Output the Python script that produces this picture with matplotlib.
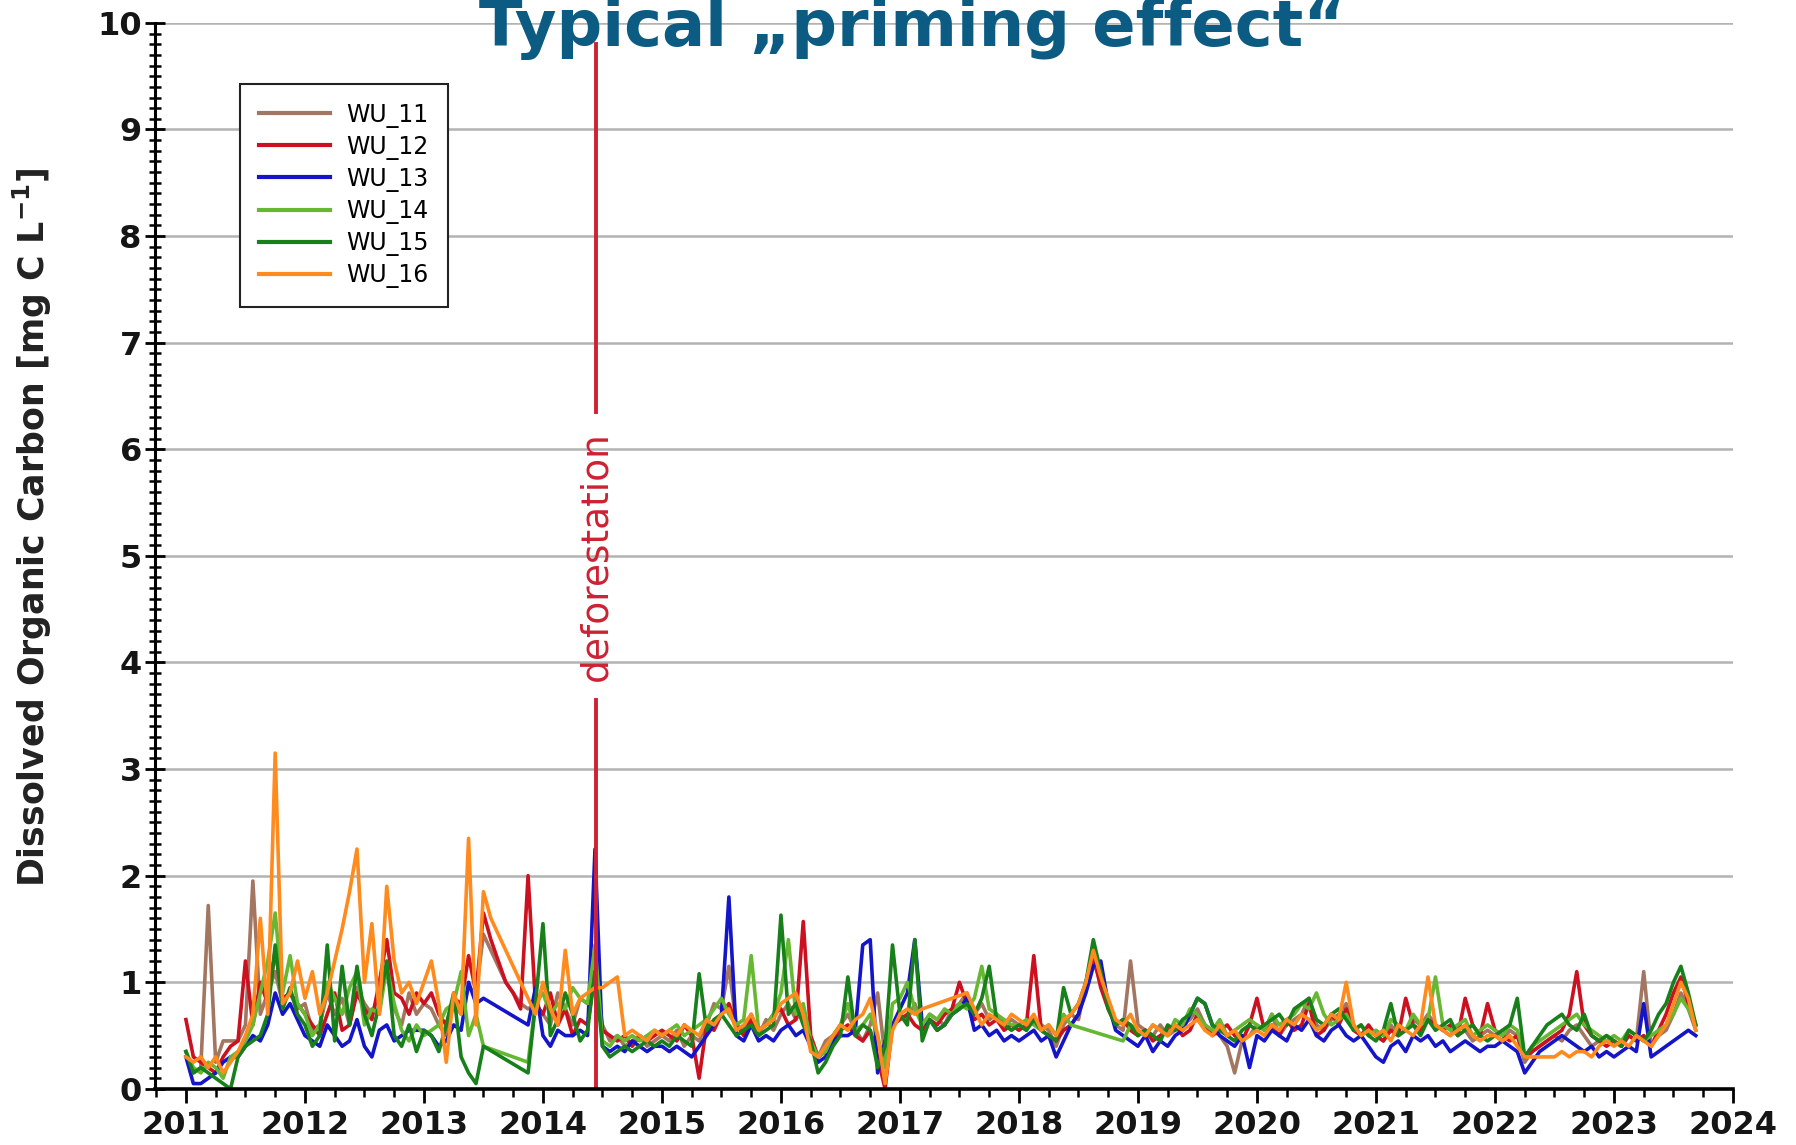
import numpy as np
import pandas as pd
import matplotlib
matplotlib.use('Agg')
import matplotlib.pyplot as plt
from matplotlib.ticker import MultipleLocator, FuncFormatter

nan = np.nan

# sampling: 16 samples per year starting 2011.0 (last year ends at 2023.69)
start_year = 2011
samples_per_year = 16

wu_11 = [
    0.35, 0.15, 0.2, 1.72, 0.25, 0.45, 0.45, 0.45, 0.6, 1.95, 0.7, 0.9, 1.1, 0.8, 0.9, 0.75,   # 2011
    0.8, 0.55, 0.6, 0.9, 0.7, 0.85, 0.6, 0.95, 0.8, 0.7, 0.9, 1.1, 0.75, 0.6, 0.9, 0.7,       # 2012
    0.8, 0.75, 0.6, 0.5, 0.8, 0.7, 0.95, 0.9, 1.45, 1.3, 1.15, 1.0, 0.9, 0.8, 0.75, 0.8,      # 2013
    0.7, 0.6, 0.9, 0.75, 0.6, 0.85, 0.8, 1.15, 0.6, 0.45, 0.5, 0.4, 0.45, 0.5, 0.4, 0.45,     # 2014
    0.5, 0.45, 0.55, 0.4, 0.5, 0.45, 0.6, 0.8, 0.75, 1.15, 0.6, 0.55, 0.7, 0.5, 0.65, 0.55,   # 2015
    0.7, 0.8, 0.65, 0.75, 0.4, 0.3, 0.45, 0.5, 0.6, 0.7, 0.55, 0.45, 0.6, 0.9, 0.3, 0.6,      # 2016
    0.7, 0.65, 0.8, 0.6, 0.7, 0.65, 0.6, 0.75, 0.8, 0.9, 0.7, 0.8, 0.65, 0.7, 0.6, 0.65,      # 2017
    0.6, 0.55, 0.65, 0.6, 0.55, 0.4, 0.6, 0.7, 0.65, 1.0, 1.2, 1.0, 0.8, 0.6, 0.55, 1.2,      # 2018
    0.6, 0.55, 0.5, 0.6, 0.5, 0.55, 0.6, 0.65, 0.75, 0.6, 0.55, 0.5, 0.4, 0.15, 0.45, 0.5,    # 2019
    0.6, 0.55, 0.7, 0.5, 0.6, 0.65, 0.7, 0.85, 0.6, 0.55, 0.65, 0.7, 0.8, 0.6, 0.5, 0.55,     # 2020
    0.5, 0.45, 0.6, 0.5, 0.55, 0.65, 0.6, 0.7, 0.6, 0.55, 0.5, 0.6, 0.55, 0.45, 0.5, 0.55,    # 2021
    0.5, 0.45, 0.55, 0.5, 0.25, 0.35, 0.4, 0.45, 0.5, 0.45, 0.55, 0.6, 0.5, 0.4, 0.45, 0.5,   # 2022
    0.45, 0.4, 0.5, 0.45, 1.1, 0.4, 0.5, 0.55, 0.7, 0.9, 0.75, 0.55,                          # 2023
]
wu_12 = [
    0.65, 0.3, 0.25, 0.2, 0.15, 0.3, 0.4, 0.45, 1.2, 0.6, 1.0, 0.8, 1.3, 0.85, 0.9, 0.8,
    0.7, 0.6, 0.5, 0.7, 0.9, 0.55, 0.6, 0.9, 0.75, 0.65, 1.0, 1.4, 0.9, 0.85, 0.7, 0.9,
    0.8, 0.9, 0.7, 0.6, 0.85, 0.8, 1.25, 0.9, 1.65, 1.4, 1.2, 1.0, 0.9, 0.75, 2.0, 0.8,
    0.7, 0.9, 0.6, 0.75, 0.5, 0.65, 0.6, 1.1, 0.55, 0.5, 0.45, 0.5, 0.4, 0.5, 0.45, 0.5,
    0.55, 0.5, 0.45, 0.6, 0.5, 0.1, 0.6, 0.55, 0.7, 0.8, 0.6, 0.5, 0.65, 0.55, 0.6, 0.7,
    0.75, 0.6, 0.65, 1.57, 0.5, 0.3, 0.35, 0.45, 0.55, 0.6, 0.5, 0.45, 0.55, 0.3, 0.0, 0.6,
    0.65, 0.7, 0.6, 0.55, 0.65, 0.6, 0.7, 0.75, 1.0, 0.8, 0.65, 0.7, 0.6, 0.65, 0.55, 0.6,
    0.55, 0.6, 1.25, 0.55, 0.5, 0.45, 0.55, 0.6, 0.7, 1.0, 1.25, 0.95, 0.75, 0.6, 0.65, 0.55,
    0.5, 0.55, 0.45, 0.5, 0.55, 0.6, 0.5, 0.55, 0.7, 0.6, 0.5, 0.55, 0.6, 0.5, 0.45, 0.6,
    0.85, 0.55, 0.6, 0.5, 0.65, 0.55, 0.6, 0.8, 0.5, 0.55, 0.7, 0.6, 0.75, 0.55, 0.5, 0.6,
    0.5, 0.45, 0.55, 0.5, 0.85, 0.6, 0.55, 0.65, 0.6, 0.55, 0.6, 0.5, 0.85, 0.6, 0.5, 0.8,
    0.55, 0.5, 0.45, 0.5, 0.3, 0.35, 0.4, 0.45, 0.5, 0.55, 0.7, 1.1, 0.6, 0.5, 0.45, 0.4,
    0.45, 0.4, 0.5, 0.45, 0.5, 0.4, 0.55, 0.7, 0.9, 1.05, 0.8, 0.6,
]
wu_13 = [
    0.3, 0.05, 0.05, 0.1, 0.15, 0.25, 0.3, 0.3, 0.4, 0.5, 0.45, 0.6, 0.9, 0.7, 0.8, 0.65,
    0.5, 0.45, 0.4, 0.6, 0.5, 0.4, 0.45, 0.65, 0.4, 0.3, 0.55, 0.6, 0.45, 0.5, 0.55, 0.55,
    0.55, 0.5, 0.4, 0.45, 0.6, 0.55, 1.0, 0.8, 0.85, nan, nan, nan, nan, nan, 0.6, 0.95,
    0.5, 0.4, 0.55, 0.5, 0.5, 0.55, 0.5, 2.25, 0.4, 0.35, 0.4, 0.35, 0.45, 0.4, 0.35, 0.4,
    0.4, 0.35, 0.4, 0.35, 0.3, 0.4, 0.5, 0.6, 0.7, 1.8, 0.5, 0.45, 0.6, 0.45, 0.5, 0.45,
    0.55, 0.6, 0.5, 0.55, 0.4, 0.25, 0.3, 0.45, 0.5, 0.5, 0.55, 1.35, 1.4, 0.15, 0.45, 0.6,
    0.75, 0.9, 1.4, 0.6, 0.65, 0.55, 0.6, 0.7, 0.75, 0.85, 0.55, 0.6, 0.5, 0.55, 0.45, 0.5,
    0.45, 0.5, 0.55, 0.45, 0.5, 0.3, 0.45, 0.6, 0.7, 0.9, 1.15, 1.2, 0.8, 0.55, 0.5, 0.45,
    0.4, 0.5, 0.35, 0.45, 0.4, 0.5, 0.55, 0.7, 0.85, 0.8, 0.6, 0.5, 0.45, 0.4, 0.5, 0.2,
    0.5, 0.45, 0.55, 0.5, 0.45, 0.6, 0.55, 0.65, 0.5, 0.45, 0.55, 0.6, 0.5, 0.45, 0.5, 0.4,
    0.3, 0.25, 0.4, 0.45, 0.35, 0.5, 0.45, 0.5, 0.4, 0.45, 0.35, 0.4, 0.45, 0.4, 0.35, 0.4,
    0.4, 0.45, 0.4, 0.35, 0.15, 0.25, 0.35, 0.4, 0.45, 0.5, 0.45, 0.4, 0.35, 0.4, 0.3, 0.35,
    0.3, 0.35, 0.4, 0.35, 0.8, 0.3, 0.35, 0.4, 0.45, 0.5, 0.55, 0.5,
]
wu_14 = [
    0.35, 0.2, 0.15, 0.25, 0.2, 0.1, 0.3, 0.35, 0.45, 0.6, 0.9, 1.2, 1.65, 0.9, 1.25, 0.8,
    0.7, 0.5, 0.6, 1.0, 0.85, 0.7, 0.95, 1.1, 0.6, 0.75, 0.7, 1.15, 0.8, 0.55, 0.45, 0.6,
    0.5, 0.55, 0.6, 0.75, 0.8, 1.1, 0.5, 0.7, 0.4, nan, nan, nan, nan, nan, 0.25, 0.8,
    0.9, 0.7, 0.8, 0.75, 0.95, 0.85, 0.8, 1.35, 0.45, 0.4, 0.5, 0.45, 0.5, 0.45, 0.5, 0.55,
    0.5, 0.55, 0.6, 0.5, 0.55, 0.6, 0.65, 0.75, 0.85, 0.7, 0.6, 0.65, 1.25, 0.55, 0.6, 0.7,
    0.9, 1.4, 0.7, 0.8, 0.45, 0.3, 0.35, 0.5, 0.6, 0.8, 0.55, 0.6, 0.7, 0.5, 0.2, 0.8,
    0.85, 1.0, 0.75, 0.6, 0.7, 0.65, 0.75, 0.7, 0.8, 0.75, 0.85, 1.15, 0.75, 0.7, 0.65, 0.6,
    0.6, 0.65, 0.6, 0.55, 0.6, 0.5, 0.7, 0.6, nan, nan, nan, nan, nan, nan, 0.45, 0.6,
    0.55, 0.5, 0.6, 0.55, 0.5, 0.65, 0.6, 0.75, 0.7, 0.6, 0.55, 0.65, 0.5, 0.55, 0.6, 0.65,
    0.6, 0.55, 0.7, 0.6, 0.65, 0.7, 0.8, 0.75, 0.9, 0.7, 0.6, 0.65, 0.7, 0.55, 0.6, 0.5,
    0.55, 0.5, 0.65, 0.6, 0.55, 0.7, 0.6, 0.65, 1.05, 0.6, 0.55, 0.6, 0.65, 0.5, 0.55, 0.6,
    0.55, 0.5, 0.6, 0.55, 0.3, 0.4, 0.45, 0.5, 0.55, 0.6, 0.65, 0.7, 0.6, 0.55, 0.5, 0.45,
    0.5, 0.45, 0.55, 0.5, 0.45, 0.5, 0.55, 0.6, 0.7, 0.85, 0.75, 0.6,
]
wu_15 = [
    0.35, 0.15, 0.2, 0.15, 0.1, 0.05, 0.0, 0.3, 0.4, 0.45, 0.5, 0.7, 1.35, 0.75, 0.95, 0.7,
    0.6, 0.4, 0.5, 1.35, 0.45, 1.15, 0.6, 1.15, 0.7, 0.5, 0.8, 1.2, 0.5, 0.4, 0.6, 0.35,
    0.55, 0.5, 0.35, 0.6, 0.9, 0.3, 0.15, 0.05, 0.4, nan, nan, nan, nan, nan, 0.15, 0.8,
    1.55, 0.5, 0.65, 0.9, 0.7, 0.45, 0.55, 1.1, 0.4, 0.3, 0.35, 0.4, 0.35, 0.4, 0.45, 0.4,
    0.45, 0.4, 0.5, 0.45, 0.4, 1.08, 0.55, 0.65, 0.7, 0.6, 0.5, 0.55, 0.6, 0.5, 0.55, 0.6,
    1.63, 0.7, 0.8, 0.6, 0.45, 0.15, 0.25, 0.4, 0.5, 1.05, 0.5, 0.6, 0.55, 0.2, 0.4, 1.35,
    0.7, 0.6, 1.4, 0.45, 0.65, 0.55, 0.6, 0.7, 0.75, 0.8, 0.7, 0.85, 1.15, 0.65, 0.6, 0.55,
    0.6, 0.55, 0.65, 0.55, 0.5, 0.45, 0.95, 0.7, 0.8, 1.0, 1.4, 1.1, 0.75, 0.6, 0.65, 0.6,
    0.5, 0.55, 0.5, 0.45, 0.6, 0.55, 0.65, 0.7, 0.85, 0.8, 0.6, 0.55, 0.5, 0.45, 0.55, 0.6,
    0.55, 0.6, 0.65, 0.7, 0.6, 0.75, 0.8, 0.85, 0.65, 0.6, 0.7, 0.75, 0.65, 0.55, 0.6, 0.5,
    0.45, 0.55, 0.8, 0.5, 0.55, 0.6, 0.5, 0.65, 0.55, 0.6, 0.65, 0.5, 0.55, 0.6, 0.5, 0.45,
    0.5, 0.55, 0.6, 0.85, 0.3, 0.4, 0.5, 0.6, 0.65, 0.7, 0.6, 0.55, 0.7, 0.5, 0.45, 0.5,
    0.45, 0.4, 0.55, 0.5, 0.45, 0.55, 0.7, 0.8, 1.0, 1.15, 0.9, 0.6,
]
wu_16 = [
    0.3, 0.25, 0.3, 0.2, 0.3, 0.15, 0.25, 0.35, 0.5, 0.7, 1.6, 0.7, 3.15, 0.8, 0.9, 1.2,
    0.85, 1.1, 0.7, 0.9, 1.2, 1.5, 1.85, 2.25, 1.0, 1.55, 0.7, 1.9, 1.2, 0.9, 1.0, 0.8,
    1.0, 1.2, 0.8, 0.25, 0.9, 0.7, 2.35, 0.6, 1.85, 1.6, 1.45, 1.3, 1.15, 1.0, 0.85, 0.7,
    1.0, 0.75, 0.6, 1.3, 0.7, 0.85, 0.9, 0.95, 0.95, 1.0, 1.05, 0.5, 0.55, 0.5, 0.45, 0.55,
    0.5, 0.55, 0.5, 0.6, 0.55, 0.5, 0.65, 0.6, 0.7, 0.75, 0.55, 0.6, 0.7, 0.55, 0.6, 0.65,
    0.8, 0.85, 0.9, 0.7, 0.35, 0.3, 0.4, 0.5, 0.6, 0.55, 0.65, 0.7, 0.85, 0.5, 0.05, 0.55,
    0.7, 0.75, 0.7, 0.75, nan, nan, nan, nan, nan, 0.9, 0.75, 0.6, 0.7, 0.65, 0.6, 0.7,
    0.65, 0.6, 0.7, 0.55, 0.6, 0.5, 0.65, 0.7, 0.8, 1.0, 1.3, 1.05, 0.85, 0.65, 0.6, 0.7,
    0.55, 0.5, 0.6, 0.55, 0.5, 0.6, 0.55, 0.6, 0.65, 0.55, 0.5, 0.6, 0.5, 0.55, 0.45, 0.5,
    0.55, 0.5, 0.6, 0.55, 0.65, 0.6, 0.7, 0.65, 0.55, 0.6, 0.7, 0.65, 1.0, 0.6, 0.5, 0.55,
    0.5, 0.55, 0.45, 0.6, 0.55, 0.5, 0.6, 1.05, 0.6, 0.55, 0.5, 0.55, 0.6, 0.5, 0.45, 0.5,
    0.5, 0.45, 0.5, 0.4, 0.3, 0.3, 0.3, 0.3, 0.3, 0.35, 0.3, 0.35, 0.35, 0.3, 0.4, 0.45,
    0.4, 0.45, 0.4, 0.5, 0.45, 0.4, 0.5, 0.6, 0.8, 1.0, 0.85, 0.55,
]

names = ['WU_11', 'WU_12', 'WU_13', 'WU_14', 'WU_15', 'WU_16']
series = [wu_11, wu_12, wu_13, wu_14, wu_15, wu_16]
colors = ['#a27660', '#cc1020', '#1414c8', '#66b832', '#17801a', '#ff8a1e']

deforest_year = 2014.445

fig = plt.figure(figsize=(17.96, 11.45), dpi=100)
ax = fig.add_axes([0.0863, 0.049, 0.8786, 0.931])

for name, vals, col in zip(names, series, colors):
    dates = start_year + np.arange(len(vals)) / samples_per_year
    s = pd.Series(vals, index=dates).dropna()
    ax.plot(s.index, s.values, color=col, lw=2.6, label=name)

# deforestation marker, broken where the label sits
red = '#cc2233'
ax.axvline(deforest_year, ymin=0, ymax=0.365, color=red, lw=2.8)
ax.axvline(deforest_year, ymin=0.635, ymax=0.98, color=red, lw=2.8)
ax.text(deforest_year, 5.0, 'deforestation', rotation=90, ha='center', va='center',
        color=red, fontsize=27)

ax.set_xlim(2010.74, 2024.0)
ax.set_ylim(0, 10)
ax.xaxis.set_major_locator(MultipleLocator(1))
ax.xaxis.set_minor_locator(MultipleLocator(0.25))
ax.xaxis.set_major_formatter(FuncFormatter(lambda v, p: f'{int(round(v))}'))
ax.yaxis.set_major_locator(MultipleLocator(1))
ax.yaxis.set_minor_locator(MultipleLocator(0.1))

ax.yaxis.grid(True, which='major', color='#b3b3b3', lw=1.8)
ax.set_axisbelow(True)

for side in ['top', 'right']:
    ax.spines[side].set_visible(False)
ax.spines['left'].set_linewidth(2.2)
ax.spines['bottom'].set_linewidth(2.6)

ax.tick_params(axis='y', which='major', direction='inout', length=15, width=2.0,
               labelsize=23, pad=2)
ax.tick_params(axis='y', which='minor', direction='inout', length=9, width=1.8)
ax.tick_params(axis='x', which='major', direction='out', length=10, width=2.0,
               labelsize=23, pad=5)
ax.tick_params(axis='x', which='minor', direction='out', length=6, width=1.8)
for lab in ax.get_xticklabels() + ax.get_yticklabels():
    lab.set_fontweight('bold')
    lab.set_color('#151515')

ax.set_ylabel(r'Dissolved Organic Carbon [mg C L$^{\mathbf{-1}}$]', fontsize=25,
              fontweight='bold', color='#222222')
ax.yaxis.set_label_coords(-0.064, 0.527)

leg = ax.legend(loc='upper left', bbox_to_anchor=(0.054, 0.943), borderaxespad=0,
                fontsize=17, fancybox=False, edgecolor='#222222', framealpha=1,
                handlelength=3.0, handletextpad=0.7, labelspacing=0.3, borderpad=0.8)
leg.get_frame().set_linewidth(1.5)
for h in leg.get_lines():
    h.set_linewidth(3.0)

fig.text(0.508, 0.975, 'Typical „priming effect“', ha='center', va='center',
         fontsize=46, fontweight='bold', color='#0b5b82', zorder=10)

fig.savefig('out.png', dpi=100, facecolor='white')
